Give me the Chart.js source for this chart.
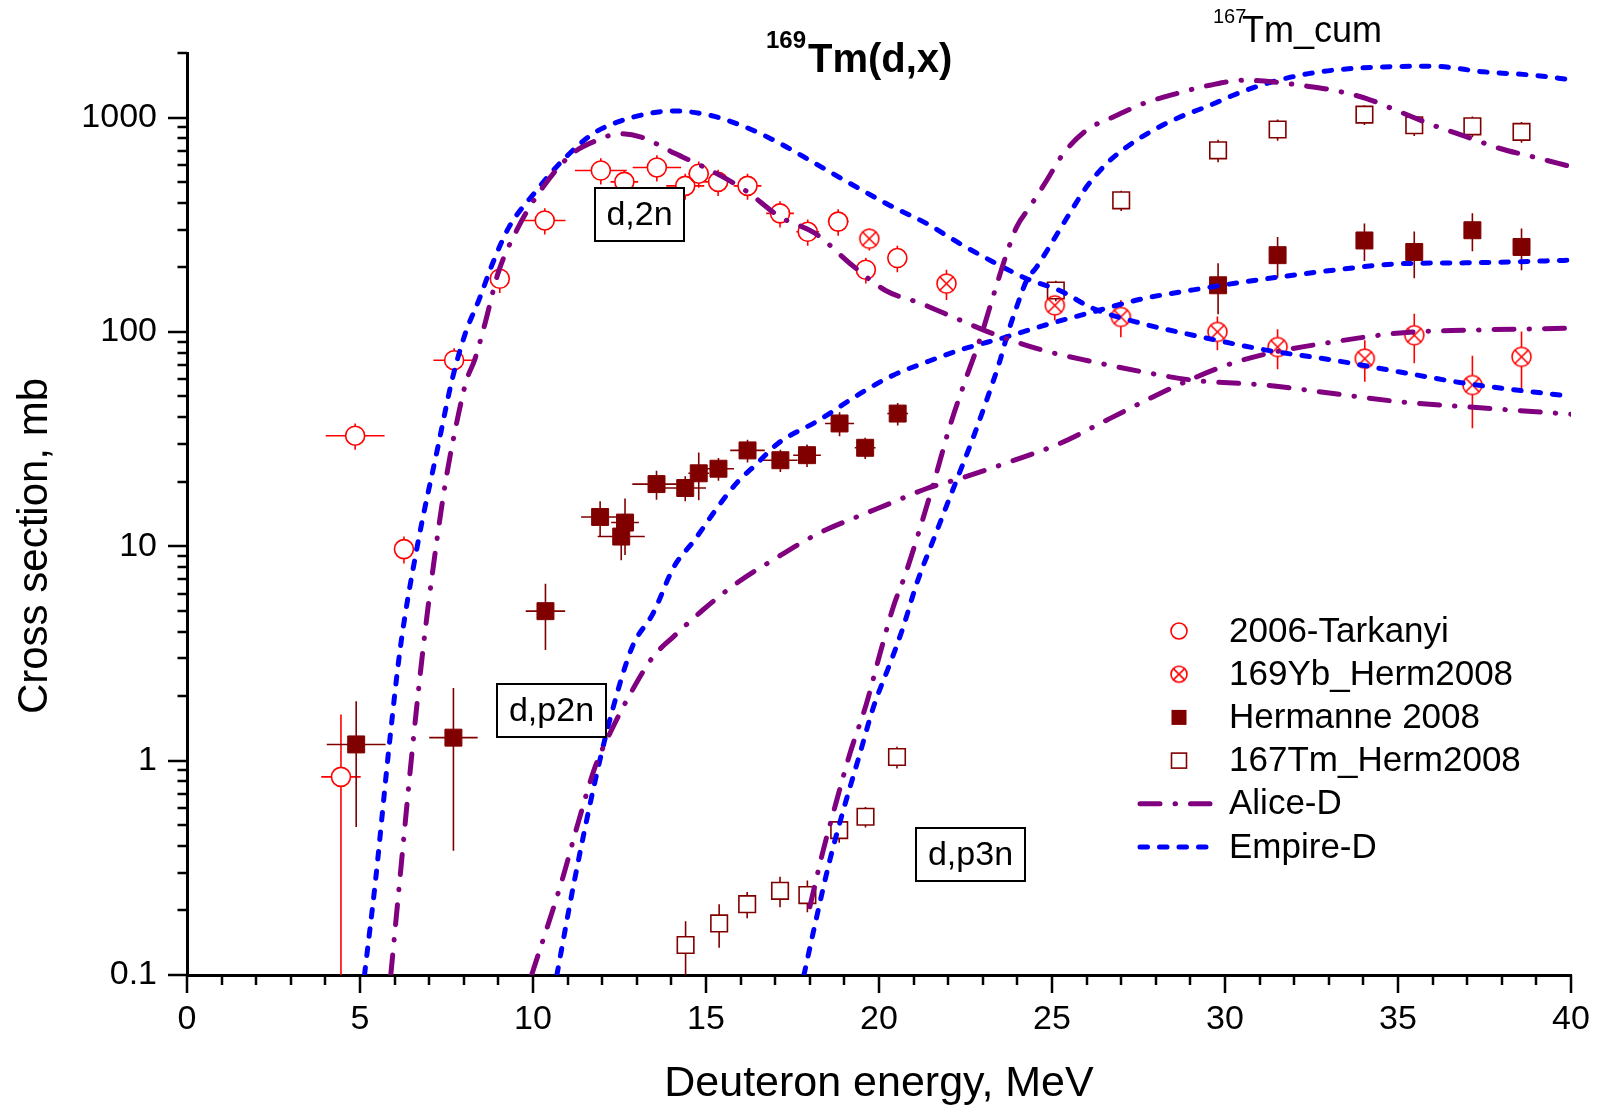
<!DOCTYPE html>
<html>
<head>
<meta charset="utf-8">
<title>169Tm(d,x)</title>
<script src="https://cdn.jsdelivr.net/npm/chart.js@4.4.1/dist/chart.umd.min.js"></script>
<style>
  html, body { margin: 0; padding: 0; background: #fff; }
  canvas { display: block; }
</style>
</head>
<body>
<canvas id="xsChart" width="1599" height="1112"></canvas>
<script>
// 2006-Tarkanyi: energy (MeV), cross section (mb), uncertainties
const tarkE   = [4.45, 4.86, 6.27, 7.72, 9.04, 10.34, 11.96, 12.64, 13.58, 14.40, 14.79, 15.35, 16.20, 17.14, 17.94, 18.82, 19.62, 20.53];
const tarkCS  = [0.84, 32.8, 9.7, 73.8, 177, 331, 566, 501, 585, 480, 547, 501, 480, 357, 293, 327, 195, 221];
const tarkDE  = [0.57, 0.85, 0, 0.6, 0, 0.6, 0.75, 0.4, 0.7, 0.55, 0.3, 0.4, 0.4, 0.4, 0.33, 0.3, 0, 0];
const tarkDCS = [0.8, 4.6, 1.4, 10, 25, 46, 79, 70, 82, 67, 77, 70, 67, 50, 41, 46, 27, 31];

// 169Yb_Herm2008
const ybE   = [19.72, 21.95, 25.08, 26.99, 29.78, 31.52, 34.04, 35.47, 37.15, 38.57];
const ybCS  = [272, 168, 133, 117.5, 100, 85, 75, 96.5, 56.5, 76.5];
const ybDCS = [32, 27, 20, 23, 18, 18, 16.5, 25, 21, 24];

// Hermanne 2008 (168Tm)
const hermE   = [4.89, 7.70, 10.36, 11.94, 12.55, 12.66, 13.57, 14.40, 14.79, 15.36, 16.20, 17.15, 17.92, 18.86, 19.60, 20.54, 29.80, 31.52, 34.03, 35.47, 37.15, 38.57];
const hermCS  = [1.19, 1.28, 4.98, 13.7, 11.1, 12.9, 19.5, 18.7, 21.9, 23, 28, 25.2, 26.6, 37.4, 28.8, 41.6, 165, 228, 267, 236, 298, 249];
const hermDE  = [0.85, 0.7, 0.57, 0.55, 0.68, 0.4, 0.7, 0.6, 0.3, 0.45, 0.5, 0.5, 0.4, 0.42, 0.3, 0.3, 0, 0, 0, 0, 0, 0];
const hermDCS = [0.7, 0.9, 1.7, 2.5, 2.5, 3.8, 3, 2.5, 5.5, 2.8, 3.4, 3, 3.2, 4.8, 3.3, 5, 44, 49, 53, 58, 60, 55];

// 167Tm_Herm2008
const tmE   = [14.41, 15.38, 16.19, 17.14, 17.93, 18.85, 19.61, 20.52, 25.11, 27.0, 29.8, 31.52, 34.03, 35.47, 37.15, 38.57];
const tmCS  = [0.138, 0.174, 0.214, 0.247, 0.236, 0.474, 0.547, 1.04, 156, 411, 703, 879, 1032, 920, 910, 857];
const tmDCS = [0.04, 0.04, 0.03, 0.04, 0.04, 0.06, 0.06, 0.12, 17, 45, 85, 100, 110, 100, 100, 95];

// ALICE-D: (d,2n), (d,p2n), 167Tm cumulative
const aliceE1  = [5.89, 6.17, 6.52, 6.83, 7.13, 7.48, 7.85, 8.08, 8.31, 8.59, 9.0, 9.53, 10.09, 11.08, 11.85, 12.5, 13.1, 14.11, 15.12, 16.13, 17.14, 18.16, 19.17, 20.19, 21.2, 22.21, 23.3, 24.75, 26.19, 27.64, 29.08, 31.2, 33.13, 35.06, 36.99, 40];
const aliceCS1 = [0.1, 0.3, 1.16, 3.4, 8.3, 20.3, 41.6, 59.6, 73.8, 106, 190, 298, 426, 667, 783, 840, 813, 679, 568, 458, 344, 288, 208, 156, 136, 116, 98, 82, 72.5, 65, 59.5, 56.4, 51.6, 47.2, 44.7, 41.3];
const aliceE2  = [9.96, 10.84, 11.3, 11.8, 12.27, 12.87, 13.47, 14.07, 14.9, 15.87, 17.07, 18.26, 19.45, 20.22, 21.38, 22.34, 23.79, 25.23, 26.68, 28.12, 29.08, 30.05, 31.2, 33.13, 35.06, 36.99, 40];
const aliceCS2 = [0.1, 0.277, 0.51, 0.94, 1.39, 2.13, 3.05, 3.8, 5.03, 6.7, 8.9, 11.5, 13.9, 15.6, 18.6, 20.7, 24.8, 30.2, 39.5, 51.6, 60.7, 70, 79, 89.8, 98.9, 101.8, 104];
const aliceE3  = [18.0, 18.39, 18.78, 19.16, 19.64, 20.03, 20.41, 20.75, 21.23, 21.66, 22.04, 22.53, 22.91, 23.34, 23.69, 23.98, 24.36, 24.85, 25.33, 26.0, 26.77, 27.64, 28.6, 29.56, 30.53, 31.4, 32.17, 33.13, 34.09, 35.06, 36.02, 36.99, 37.95, 38.91, 40];
const aliceCS3 = [0.208, 0.383, 0.655, 1.08, 1.85, 3.16, 5.2, 7.3, 12.8, 21.9, 36, 61.7, 91.5, 154, 232, 309, 383, 510, 679, 873, 1006, 1162, 1294, 1415, 1493, 1466, 1415, 1341, 1226, 1062, 920, 812, 717, 655, 590];

// EMPIRE-D: same three channels
const empE1  = [5.13, 5.45, 5.84, 6.17, 6.65, 7.25, 7.66, 8.04, 8.43, 8.87, 9.31, 10.03, 10.86, 11.74, 12.5, 13.1, 14.01, 15.12, 16.13, 17.14, 18.16, 19.17, 20.3, 21.38, 22.34, 23.3, 24.27, 25.22, 26.19, 27.64, 29.08, 31.2, 33.13, 35.06, 36.99, 40];
const empCS1 = [0.1, 0.277, 1.16, 3.4, 9.9, 29, 59.6, 98, 140, 216, 309, 442, 632, 842, 960, 1024, 1074, 1024, 904, 757, 610, 492, 390, 320, 258, 212, 177, 156, 128.6, 109, 96.5, 82.2, 73.8, 65, 57.4, 50];
const empE2  = [10.69, 11.2, 11.8, 12.27, 12.87, 13.47, 14.07, 14.67, 15.27, 15.87, 16.47, 17.07, 18.26, 19.45, 20.41, 21.38, 22.33, 23.69, 24.75, 26.19, 27.64, 29.08, 30.53, 31.2, 33.13, 35.06, 36.99, 40];
const empCS2 = [0.1, 0.277, 0.81, 1.66, 3.4, 4.86, 8.0, 10.7, 14.7, 19.6, 24.3, 30.1, 38.7, 51.5, 62.8, 72.4, 82.2, 94.8, 107, 124, 143, 157, 171, 177, 194, 208, 210, 216];
const empE3  = [17.83, 18.2, 18.58, 18.97, 19.45, 19.84, 20.32, 20.7, 21.09, 21.57, 22.24, 22.73, 23.11, 23.5, 23.69, 23.98, 24.27, 24.56, 25.04, 25.51, 26.0, 26.58, 27.16, 27.93, 28.7, 29.57, 30.24, 31.2, 32.17, 33.13, 34.58, 36.02, 37.47, 38.91, 40];
const empCS3 = [0.1, 0.187, 0.344, 0.588, 1.08, 1.78, 2.84, 4.2, 6.7, 10.7, 20.3, 32.4, 48, 73.8, 94.8, 131, 174, 201, 268, 357, 475, 610, 729, 873, 1006, 1141, 1271, 1442, 1575, 1663, 1722, 1734, 1634, 1575, 1500];

const FONT = "Arial, 'Liberation Sans', sans-serif";
const RED = '#ff0000', MAROON = '#800000', PURPLE = '#800080', BLUE = '#0000ff';
const ALICE_DASH = [20, 15, 0.5, 15];
const EMPIRE_DASH = [7.5, 12];

Chart.defaults.font.family = FONT;
Chart.defaults.color = '#000';

function pts(xs, ys) { return xs.map((x, i) => ({ x: x, y: ys[i] })); }

// open circle with a diagonal cross
function crossCircle(r, color) {
  const c = document.createElement('canvas');
  const s = Math.ceil(2 * r + 4);
  c.width = s; c.height = s;
  const g = c.getContext('2d');
  const m = s / 2, d = r * Math.SQRT1_2;
  g.strokeStyle = color; g.lineWidth = 1.6;
  g.beginPath(); g.arc(m, m, r, 0, Math.PI * 2); g.stroke();
  g.beginPath();
  g.moveTo(m - d, m - d); g.lineTo(m + d, m + d);
  g.moveTo(m + d, m - d); g.lineTo(m - d, m + d);
  g.stroke();
  return c;
}

function curve(label, xs, ys, color, dash, inLegend) {
  return {
    label: label, data: pts(xs, ys), showLine: true, pointRadius: 0,
    borderColor: color, borderWidth: 5, borderDash: dash, borderCapStyle: 'round',
    cubicInterpolationMode: 'monotone', fill: false, order: 0, inLegend: inLegend
  };
}

const datasets = [
  { label: '2006-Tarkanyi', data: pts(tarkE, tarkCS), errX: tarkDE, errY: tarkDCS,
    pointStyle: 'circle', pointRadius: 9.5, borderWidth: 1.6, borderColor: RED,
    backgroundColor: 'rgba(0,0,0,0)', gap: 9.5, order: 1, inLegend: true, mark: 'circle' },
  { label: '169Yb_Herm2008', data: pts(ybE, ybCS), errY: ybDCS,
    pointStyle: crossCircle(9.5, RED), pointRadius: 10, borderColor: RED,
    backgroundColor: 'rgba(0,0,0,0)', gap: 9.5, order: 1, inLegend: true, mark: 'crossCircle' },
  { label: 'Hermanne 2008', data: pts(hermE, hermCS), errX: hermDE, errY: hermDCS,
    pointStyle: 'rect', pointRadius: 12, borderWidth: 1, borderColor: MAROON,
    backgroundColor: MAROON, gap: 8, order: 1, inLegend: true, mark: 'filledRect' },
  { label: '167Tm_Herm2008', data: pts(tmE, tmCS), errY: tmDCS,
    pointStyle: 'rect', pointRadius: 11.7, borderWidth: 1.6, borderColor: MAROON,
    backgroundColor: '#ffffff', gap: 8, order: 1, inLegend: true, mark: 'openRect' },
  curve('Alice-D', aliceE1, aliceCS1, PURPLE, ALICE_DASH, true),
  curve('Alice-D', aliceE2, aliceCS2, PURPLE, ALICE_DASH, false),
  curve('Alice-D', aliceE3, aliceCS3, PURPLE, ALICE_DASH, false),
  curve('Empire-D', empE1, empCS1, BLUE, EMPIRE_DASH, true),
  curve('Empire-D', empE2, empCS2, BLUE, EMPIRE_DASH, false),
  curve('Empire-D', empE3, empCS3, BLUE, EMPIRE_DASH, false)
];

// error bars, drawn under the markers and clipped to the plot
const errorBars = {
  id: 'errorBars',
  beforeDatasetsDraw(chart) {
    const { ctx, chartArea: a, scales: { x, y } } = chart;
    ctx.save();
    ctx.beginPath();
    ctx.rect(a.left, a.top, a.right - a.left, a.bottom - a.top);
    ctx.clip();
    chart.data.datasets.forEach(ds => {
      if (!ds.errY) return;
      ctx.strokeStyle = ds.borderColor;
      ctx.lineWidth = 1.6;
      ctx.beginPath();
      ds.data.forEach((p, i) => {
        const px = x.getPixelForValue(p.x), py = y.getPixelForValue(p.y);
        const dy = ds.errY[i] || 0, dx = ds.errX ? (ds.errX[i] || 0) : 0;
        if (dy) {
          const top = y.getPixelForValue(p.y + dy);
          const lo = p.y - dy;
          const bot = lo > 0 ? y.getPixelForValue(lo) : a.bottom + 5;
          if (top < py - ds.gap) { ctx.moveTo(px, py - ds.gap); ctx.lineTo(px, top); }
          if (bot > py + ds.gap) { ctx.moveTo(px, py + ds.gap); ctx.lineTo(px, bot); }
        }
        if (dx) {
          const l = x.getPixelForValue(p.x - dx), r = x.getPixelForValue(p.x + dx);
          if (l < px - ds.gap) { ctx.moveTo(px - ds.gap, py); ctx.lineTo(l, py); }
          if (r > px + ds.gap) { ctx.moveTo(px + ds.gap, py); ctx.lineTo(r, py); }
        }
      });
      ctx.stroke();
    });
    ctx.restore();
  }
};

// outward major/minor tick marks on both axes
const axisTicks = {
  id: 'axisTicks',
  afterDraw(chart) {
    const { ctx, chartArea: a, scales: { x, y } } = chart;
    ctx.save();
    ctx.strokeStyle = '#000';
    ctx.lineWidth = 2.5;
    ctx.beginPath();
    for (let e = -1; e <= 3; e++) {
      for (let k = 1; k <= 9; k++) {
        const v = k * Math.pow(10, e);
        if (v > y.max * 1.0001) break;
        const py = Math.round(y.getPixelForValue(v));
        ctx.moveTo(a.left, py);
        ctx.lineTo(a.left - (k === 1 ? 19 : 9.5), py);
      }
    }
    for (let v = x.min; v <= x.max; v++) {
      const px = Math.round(x.getPixelForValue(v));
      ctx.moveTo(px, a.bottom);
      ctx.lineTo(px, a.bottom + (v % 5 === 0 ? 18 : 10));
    }
    ctx.stroke();
    ctx.restore();
  }
};

// titles, reaction boxes, y-axis title and the legend block
const annotations = {
  id: 'annotations',
  afterDraw(chart) {
    const ctx = chart.ctx;
    ctx.save();
    ctx.fillStyle = '#000';
    ctx.textBaseline = 'alphabetic';
    ctx.textAlign = 'left';

    ctx.font = 'bold 24px ' + FONT;
    ctx.fillText('169', 766, 48);
    ctx.font = 'bold 40px ' + FONT;
    ctx.fillText('Tm(d,x)', 808, 72);

    ctx.font = '20px ' + FONT;
    ctx.fillText('167', 1213, 23);
    ctx.font = '36px ' + FONT;
    ctx.fillText('Tm_cum', 1242, 42);

    // reaction labels
    const boxes = [
      { t: 'd,2n', x: 595, y: 188, w: 89, h: 53 },
      { t: 'd,p2n', x: 497, y: 684, w: 109, h: 53 },
      { t: 'd,p3n', x: 916, y: 828, w: 109, h: 53 }
    ];
    ctx.lineWidth = 2;
    ctx.strokeStyle = '#000';
    ctx.font = '34px ' + FONT;
    ctx.textAlign = 'center';
    ctx.textBaseline = 'middle';
    boxes.forEach(b => {
      ctx.fillStyle = '#fff';
      ctx.fillRect(b.x, b.y, b.w, b.h);
      ctx.strokeRect(b.x, b.y, b.w, b.h);
      ctx.fillStyle = '#000';
      ctx.fillText(b.t, b.x + b.w / 2, b.y + b.h / 2 + 1);
    });

    // y-axis title
    ctx.save();
    ctx.translate(35, 546);
    ctx.rotate(-Math.PI / 2);
    ctx.font = '42px ' + FONT;
    ctx.fillText('Cross section, mb', 0, 0);
    ctx.restore();

    // legend
    const rows = chart.data.datasets.filter(d => d.inLegend);
    const mx = 1179, textX = 1229, y0 = 631, step = 43.2;
    ctx.font = '35px ' + FONT;
    ctx.textAlign = 'left';
    rows.forEach((ds, i) => {
      const ly = y0 + i * step;
      ctx.save();
      if (ds.showLine) {
        ctx.strokeStyle = ds.borderColor;
        ctx.lineWidth = ds.borderWidth;
        ctx.lineCap = 'round';
        ctx.setLineDash(ds.borderDash);
        ctx.beginPath();
        ctx.moveTo(1140, ly);
        ctx.lineTo(ds.borderDash === ALICE_DASH ? 1210 : 1218, ly);
        ctx.stroke();
      } else if (ds.mark === 'circle') {
        ctx.strokeStyle = ds.borderColor; ctx.lineWidth = 1.6;
        ctx.beginPath(); ctx.arc(mx, ly, 8, 0, Math.PI * 2); ctx.stroke();
      } else if (ds.mark === 'crossCircle') {
        const img = crossCircle(8, ds.borderColor);
        ctx.drawImage(img, mx - img.width / 2, ly - img.height / 2);
      } else if (ds.mark === 'filledRect') {
        ctx.fillStyle = ds.backgroundColor;
        ctx.fillRect(mx - 7.5, ly - 7.5, 15, 15);
      } else if (ds.mark === 'openRect') {
        ctx.strokeStyle = ds.borderColor; ctx.lineWidth = 1.6;
        ctx.strokeRect(mx - 7.5, ly - 7.5, 15, 15);
      }
      ctx.restore();
      ctx.fillStyle = '#000';
      ctx.textBaseline = 'middle';
      ctx.fillText(ds.label, textX, ly + 1);
    });
    ctx.restore();
  }
};

function decadeLabel(v) {
  const lg = Math.log10(v);
  const r = Math.round(lg);
  if (Math.abs(lg - r) > 1e-6 || r > 3) return '';
  return r < 0 ? '0.1' : String(Math.round(v));
}

new Chart(document.getElementById('xsChart').getContext('2d'), {
  type: 'scatter',
  data: { datasets: datasets },
  plugins: [errorBars, axisTicks, annotations],
  options: {
    responsive: false,
    animation: false,
    layout: { padding: { left: 0, right: 28, top: 53, bottom: 0 } },
    plugins: { legend: { display: false }, tooltip: { enabled: false } },
    scales: {
      x: {
        type: 'linear', position: 'bottom', min: 0, max: 40,
        grid: { display: false, drawTicks: false },
        border: { display: true, color: '#000', width: 3 },
        ticks: { stepSize: 5, padding: 24, color: '#000', font: { size: 34 } },
        title: { display: true, text: 'Deuteron energy, MeV', color: '#000',
                 font: { size: 43 }, padding: { top: 0, bottom: 2 } },
        afterFit(s) { s.height = 137; s.paddingLeft = 0; s.paddingRight = 0; }
      },
      y: {
        type: 'logarithmic', position: 'left', min: 0.1, max: 2000,
        grid: { display: false, drawTicks: false },
        border: { display: true, color: '#000', width: 3 },
        ticks: { autoSkip: false, padding: 30, color: '#000', font: { size: 34 },
                 callback: v => decadeLabel(v) },
        title: { display: false },
        afterFit(s) { s.width = 187; s.paddingTop = 0; s.paddingBottom = 0; }
      }
    }
  }
});
</script>
</body>
</html>
